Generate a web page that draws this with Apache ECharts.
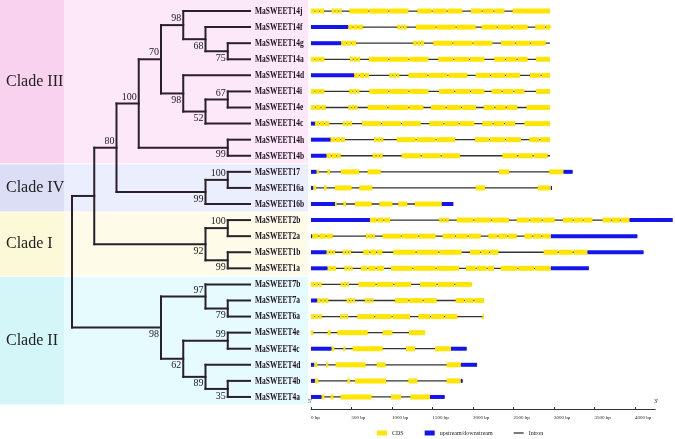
<!DOCTYPE html>
<html><head><meta charset="utf-8">
<script src="https://cdn.jsdelivr.net/npm/echarts@6/dist/echarts.min.js"></script>
<style>html,body{margin:0;padding:0;background:#fff}#c{width:675px;height:439px}</style>
</head><body><div id="c"></div>
<script>
// ---------------- DATA ----------------
const newick = "((((((MaSWEET14j,(MaSWEET14f,(MaSWEET14g,MaSWEET14a)75)68)98,(MaSWEET14d,((MaSWEET14i,MaSWEET14e)67,MaSWEET14c)52)98)70,(MaSWEET14h,MaSWEET14b)99)100,((MaSWEET17,MaSWEET16a)100,MaSWEET16b)99)80,((MaSWEET2b,MaSWEET2a)100,(MaSWEET1b,MaSWEET1a)99)92),((MaSWEET7b,(MaSWEET7a,MaSWEET6a)79)97,((MaSWEET4e,MaSWEET4c)99,(MaSWEET4d,(MaSWEET4b,MaSWEET4a)35)89)62)98);";

const clades = ['Clade III', 'Clade IV', 'Clade I', 'Clade II'];
const cladeFirstLeaf = ['MaSWEET14j', 'MaSWEET17', 'MaSWEET2b', 'MaSWEET7b'];
const cladeLastLeaf = ['MaSWEET14b', 'MaSWEET16b', 'MaSWEET1a', 'MaSWEET4a'];

const geneNames = ['MaSWEET14j','MaSWEET14f','MaSWEET14g','MaSWEET14a','MaSWEET14d','MaSWEET14i','MaSWEET14e','MaSWEET14c','MaSWEET14h','MaSWEET14b',
  'MaSWEET17','MaSWEET16a','MaSWEET16b','MaSWEET2b','MaSWEET2a','MaSWEET1b','MaSWEET1a',
  'MaSWEET7b','MaSWEET7a','MaSWEET6a','MaSWEET4e','MaSWEET4c','MaSWEET4d','MaSWEET4b','MaSWEET4a'];

const geneLength = [2950,2955,2950,2950,2950,2950,2950,2950,2950,2950,
  3230,2975,1757,4465,4029,4105,3430,
  1985,2136,2136,1407,1922,2050,1872,1650];

const utrSegments = [
  [],
  [[0,461]],
  [[0,374]],
  [],
  [[0,535]],
  [],
  [],
  [[0,49]],
  [[0,243]],
  [[0,193]],
  [[0,70],[3115,3230]],
  [[0,29],[2959,2975]],
  [[0,296],[1613,1757]],
  [[0,728],[3930,4465]],
  [[0,16],[2959,4029]],
  [[0,193],[3411,4105]],
  [[0,206],[2959,3430]],
  [],
  [[0,78]],
  [],
  [],
  [[0,255],[1728,1922]],
  [[0,41],[1848,2050]],
  [[0,49],[1848,1872]],
  [[0,132],[1469,1650]]
];

const cdsSegments = [
  [[0,45],[53,103],[111,160],[255,292],[300,337],[346,379],[473,708],[720,955],[967,1202],[1313,1490],[1502,1675],[1687,1868],[1975,2107],[2119,2251],[2263,2387],[2490,2950]],
  [[461,514],[523,576],[584,638],[1066,1099],[1107,1140],[1148,1181],[1296,1539],[1551,1786],[1798,2033],[2107,2292],[2304,2477],[2490,2675],[2769,2889],[2902,2955]],
  [[374,432],[440,494],[502,556],[1263,1304],[1313,1350],[1358,1395],[1510,1745],[1757,1992],[2004,2239],[2346,2518],[2531,2704],[2716,2897]],
  [[0,45],[53,107],[115,165],[481,518],[527,564],[572,605],[716,955],[967,1202],[1214,1449],[1572,1757],[1769,1951],[1963,2140],[2263,2395],[2407,2539],[2551,2675],[2778,2950]],
  [[535,593],[601,655],[663,716],[967,1004],[1012,1049],[1058,1090],[1202,1436],[1449,1683],[1695,1930],[2033,2210],[2222,2395],[2407,2580],[2704,2835],[2848,2950]],
  [[0,45],[53,107],[115,165],[473,510],[518,556],[564,597],[720,955],[967,1202],[1214,1449],[1580,1769],[1782,1963],[1975,2140],[2230,2354],[2366,2498],[2510,2634],[2778,2950]],
  [[0,53],[62,119],[128,181],[461,494],[502,535],[543,576],[700,942],[955,1202],[1214,1387],[1481,1662],[1675,1852],[1864,2037],[2132,2263],[2276,2403],[2416,2547],[2662,2950]],
  [[49,103],[111,165],[173,226],[391,424],[432,465],[473,506],[630,864],[877,1111],[1123,1354],[1461,1634],[1646,1823],[1835,2016],[2115,2243],[2255,2383],[2395,2518],[2634,2950]],
  [[243,296],[304,358],[366,420],[778,811],[819,852],[860,893],[1058,1292],[1304,1539],[1551,1778],[2025,2197],[2210,2395],[2407,2592],[2695,2819],[2831,2950]],
  [[193,247],[255,309],[317,366],[761,798],[807,844],[852,885],[1119,1354],[1366,1601],[1613,1839],[2362,2547],[2560,2736],[2749,2922]],
  [[70,95],[202,235],[370,593],[700,860],[2321,2444],[2942,3115]],
  [[29,62],[160,193],[296,502],[597,757],[2033,2148],[2800,2959]],
  [[296,317],[399,432],[543,749],[844,1004],[1078,1189],[1284,1613]],
  [[728,811],[823,893],[905,975],[1584,1618],[1626,1660],[1668,1700],[1798,2004],[2016,2222],[2234,2444],[2539,2695],[2708,2848],[2860,3008],[3111,3231],[3243,3356],[3366,3473],[3600,3704],[3716,3815],[3827,3930]],
  [[16,91],[103,181],[193,267],[679,712],[720,753],[761,790],[885,1107],[1119,1325],[1337,1539],[1625,1778],[1790,1934],[1946,2095],[2189,2300],[2313,2424],[2436,2539],[2634,2732],[2745,2843],[2856,2959]],
  [[193,226],[235,263],[272,296],[391,424],[432,461],[469,494],[646,720],[732,805],[817,880],[1016,1292],[1304,1572],[1584,1860],[1963,2090],[2100,2200],[2210,2313],[2872,3045],[3058,3231],[3243,3411]],
  [[206,255],[263,309],[412,444],[452,481],[489,514],[617,695],[708,798],[811,901],[988,1251],[1263,1539],[1551,1827],[1913,2033],[2045,2169],[2181,2259],[2341,2547],[2560,2753],[2765,2959]],
  [[0,41],[49,86],[95,132],[366,399],[407,436],[444,469],[584,798],[811,1016],[1029,1234],[1346,1551],[1564,1769],[1782,1985]],
  [[78,119],[128,169],[177,214],[440,473],[481,510],[518,543],[667,700],[708,737],[745,770],[1037,1202],[1214,1379],[1391,1551],[1786,1889],[1901,2004],[2016,2136]],
  [[0,37],[45,86],[95,132],[358,391],[399,428],[436,461],[572,782],[794,996],[1008,1222],[1325,1469],[1481,1642],[1654,1807],[2115,2136]],
  [[0,29],[206,243],[325,700],[885,1004],[1210,1407]],
  [[255,288],[399,424],[514,885],[1173,1284],[1531,1728]],
  [[41,78],[185,214],[305,675],[811,922],[1675,1848]],
  [[49,91],[449,481],[543,926],[1202,1313],[1675,1848]],
  [[132,165],[243,276],[366,749],[988,1111],[1226,1469]]
];

const tickValues = [0,500,1000,1500,2000,2500,3000,3500,4000];
const tickLabels = ['0 bp','500 bp','1000 bp','1500 bp','2000 bp','2500 bp','3000 bp','3500 bp','4000 bp'];
const legendNames = ['CDS','upstream/downstream','Intron'];

// ---------------- TREE LAYOUT ----------------
function parseNewick(s) {
  let i = 0;
  function node() {
    const n = { children: [], name: '', label: '' };
    if (s[i] === '(') {
      i++;
      n.children.push(node());
      while (s[i] === ',') { i++; n.children.push(node()); }
      i++;
    }
    let t = '';
    while (i < s.length && ',();'.indexOf(s[i]) < 0) { t += s[i]; i++; }
    if (n.children.length) n.label = t; else n.name = t;
    return n;
  }
  return node();
}
const root = parseNewick(newick);
function height(n) { n.h = n.children.length ? 1 + Math.max(...n.children.map(height)) : 0; return n.h; }
height(root);
const H = root.h;
const leaves = [];
function place(n) {
  if (!n.children.length) { n.y = leaves.length; leaves.push(n.name); }
  else { n.children.forEach(place); n.y = (n.children[0].y + n.children[n.children.length - 1].y) / 2; }
  n.x = H - n.h;
}
place(root);
const branches = [], supports = [];
function collect(n, parent, idx) {
  if (parent) branches.push([parent.x, n.y, n.x, n.y]);
  if (n.children.length) {
    branches.push([n.x, n.children[0].y, n.x, n.children[n.children.length - 1].y]);
    if (n.label) supports.push({ value: [n.x, n.y], text: n.label, up: idx === 0 });
    n.children.forEach((c, k) => collect(c, n, k));
  }
}
collect(root, null, 0);

const rowOf = name => leaves.indexOf(name);
const cdsData = [], utrData = [], intronData = [];
geneNames.forEach((g, k) => {
  const r = rowOf(g);
  intronData.push([geneLength[k], r]);
  cdsSegments[k].forEach(s => cdsData.push([s[0], s[1], r]));
  utrSegments[k].forEach(s => utrData.push([s[0], s[1], r]));
});
const cladeData = clades.map((c, k) => [rowOf(cladeFirstLeaf[k]), rowOf(cladeLastLeaf[k])]);

// ---------------- CHART ----------------
const SERIF = "'Liberation Serif','Times New Roman',serif";
const bandDark = ['#f8d2ef', '#dcdef6', '#fcf9d8', '#d4f6f9'];
const bandLight = ['#fde8f9', '#ebeefc', '#fefce8', '#e6fbfd'];
const CDS_COLOR = '#ffe500', UTR_COLOR = '#1414ee', INTRON_COLOR = '#333333';

const chart = echarts.init(document.getElementById('c'), null, { renderer: 'canvas' });
const yMax = leaves.length - 0.5;

function rectSeg(params, api, h) {
  const a = api.coord([api.value(0), api.value(2)]);
  const b = api.coord([api.value(1), api.value(2)]);
  return { type: 'rect', shape: { x: a[0], y: a[1] - h / 2, width: Math.max(b[0] - a[0], 1), height: h },
    style: { fill: api.visual('color') } };
}

chart.setOption({
  animation: false,
  backgroundColor: '#ffffff',
  grid: [
    { left: 72, top: 3, width: 178, height: 402 },
    { left: 311, top: 3, width: 344.25, height: 402 }
  ],
  xAxis: [
    { gridIndex: 0, type: 'value', min: 0, max: H, show: false },
    { gridIndex: 1, type: 'value', min: 0, max: 4250, position: 'bottom', offset: 4,
      axisLine: { onZero: false, lineStyle: { color: '#333', width: 1 } },
      axisTick: { inside: true, length: 2, customValues: tickValues, lineStyle: { color: '#333' } },
      axisLabel: { customValues: tickValues, formatter: v => tickLabels[tickValues.indexOf(v)], fontSize: 5,
        align: 'left', margin: 6, color: '#222', fontFamily: SERIF },
      splitLine: { show: false } }
  ],
  yAxis: [
    { gridIndex: 0, type: 'value', min: -0.5, max: yMax, inverse: true, show: false },
    { gridIndex: 1, type: 'value', min: -0.5, max: yMax, inverse: true, show: false }
  ],
  legend: {
    left: 372, top: 425, itemWidth: 10, itemHeight: 5, itemGap: 21, selectedMode: false,
    textStyle: { fontSize: 6, fontFamily: SERIF, color: '#222' },
    data: [
      { name: legendNames[0], icon: 'rect' },
      { name: legendNames[1], icon: 'rect' },
      { name: legendNames[2], icon: 'path://M0,0H10V1.3H0Z' }
    ]
  },
  graphic: [
    { type: 'text', left: 308, top: 398, style: { text: "5'", fontSize: 6, fontFamily: SERIF, fill: '#222' } },
    { type: 'text', left: 654, top: 398, style: { text: "3'", fontSize: 6, fontFamily: SERIF, fill: '#222' } }
  ],
  series: [
    { type: 'custom', name: 'bands', xAxisIndex: 0, yAxisIndex: 0, silent: true, z: 0, data: cladeData,
      renderItem: (params, api) => {
        const k = params.dataIndex;
        const t = api.coord([0, api.value(0) - 0.5]);
        const b = api.coord([0, api.value(1) + 0.5]);
        const top = k === 0 ? 0 : t[1] + 0.5;
        const bot = b[1] - 0.5;
        return { type: 'group', children: [
          { type: 'rect', shape: { x: 0, y: top, width: 64, height: bot - top }, style: { fill: bandDark[k] } },
          { type: 'rect', shape: { x: 64, y: top, width: 244, height: bot - top }, style: { fill: bandLight[k] } },
          { type: 'text', x: 6, y: (top + bot) / 2, style: { text: clades[k], fontSize: 16, fontFamily: SERIF,
            fill: '#222', verticalAlign: 'middle', align: 'left' } }
        ] };
      } },
    { type: 'custom', name: 'tree', xAxisIndex: 0, yAxisIndex: 0, silent: true, z: 3, data: branches,
      renderItem: (params, api) => {
        const a = api.coord([api.value(0), api.value(1)]);
        const b = api.coord([api.value(2), api.value(3)]);
        return { type: 'line', shape: { x1: a[0], y1: a[1], x2: b[0], y2: b[1] },
          style: { stroke: '#2a1f2d', lineWidth: 2, lineCap: 'square' } };
      } },
    { type: 'custom', name: 'support', xAxisIndex: 0, yAxisIndex: 0, silent: true, z: 4, data: supports,
      renderItem: (params, api) => {
        const s = supports[params.dataIndex];
        const p = api.coord(s.value);
        return { type: 'text', x: p[0] - 2, y: p[1] + (s.up ? -6.5 : 7),
          style: { text: s.text, fontSize: 10, fontFamily: SERIF, fill: '#1a1a1a', align: 'right', verticalAlign: 'middle' } };
      } },
    { type: 'custom', name: 'leaves', xAxisIndex: 0, yAxisIndex: 0, silent: true, z: 4,
      data: leaves.map((n, i) => [H, i]),
      renderItem: (params, api) => {
        const p = api.coord([api.value(0), api.value(1)]);
        return { type: 'text', x: p[0] + 5, y: p[1], scaleX: 0.68,
          style: { text: leaves[params.dataIndex], fontSize: 11, fontWeight: 'bold', fontFamily: SERIF,
            fill: '#1c1020', align: 'left', verticalAlign: 'middle' } };
      } },
    { type: 'custom', name: legendNames[2], xAxisIndex: 1, yAxisIndex: 1, silent: true, z: 2, data: intronData,
      itemStyle: { color: INTRON_COLOR },
      renderItem: (params, api) => {
        const a = api.coord([0, api.value(1)]);
        const b = api.coord([api.value(0), api.value(1)]);
        return { type: 'line', shape: { x1: a[0], y1: a[1], x2: b[0], y2: b[1] },
          style: { stroke: INTRON_COLOR, lineWidth: 1.3 } };
      } },
    { type: 'custom', name: legendNames[1], xAxisIndex: 1, yAxisIndex: 1, silent: true, z: 3, data: utrData,
      itemStyle: { color: UTR_COLOR }, encode: { x: [0, 1], y: 2 },
      renderItem: (params, api) => rectSeg(params, api, 4) },
    { type: 'custom', name: legendNames[0], xAxisIndex: 1, yAxisIndex: 1, silent: true, z: 3, data: cdsData,
      itemStyle: { color: CDS_COLOR }, encode: { x: [0, 1], y: 2 },
      renderItem: (params, api) => rectSeg(params, api, 5) }
  ]
});
</script></body></html>
